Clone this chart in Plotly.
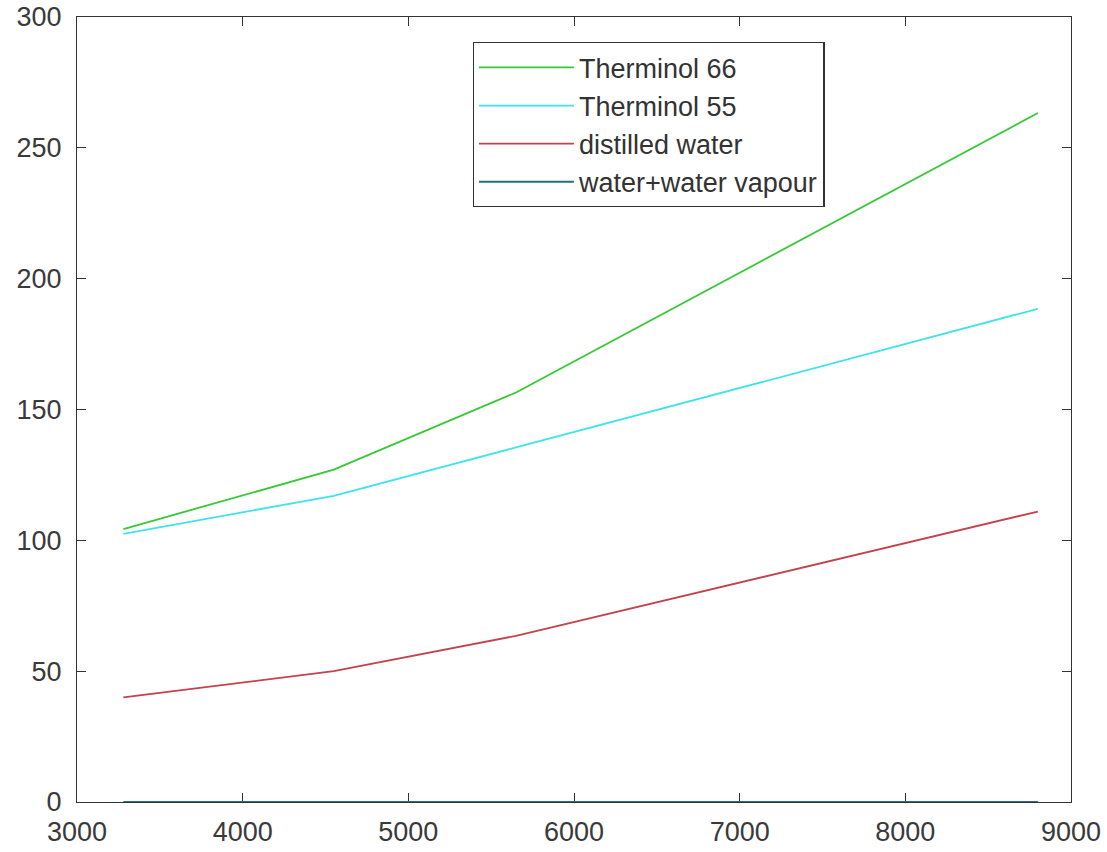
import plotly.graph_objects as go

# Data
speed = [3280, 4550, 5650, 8800]
therminol_66 = [104.3, 127.0, 156.5, 263.3]
therminol_55 = [102.5, 117.0, 135.5, 188.5]
distilled_water = [40.0, 50.0, 63.5, 111.0]
water_vapour = [0.0, 0.0, 0.0, 0.0]

series_names = ["Therminol 66", "Therminol 55", "distilled water", "water+water vapour"]
series_values = [therminol_66, therminol_55, distilled_water, water_vapour]
series_colors = ["#35c935", "#3fe3ea", "#c2434d", "#23707f"]

x_ticks = [3000, 4000, 5000, 6000, 7000, 8000, 9000]
y_ticks = [0, 50, 100, 150, 200, 250, 300]

fig = go.Figure()
for name, vals, col in zip(series_names, series_values, series_colors):
    fig.add_trace(go.Scatter(
        x=speed, y=vals, mode="lines", name=name, legendgroup=name,
        line=dict(color=col, width=1.8),
    ))

axis_common = dict(
    showline=True, linecolor="#333333", linewidth=1.3, mirror="ticks",
    ticks="inside", ticklen=9, tickwidth=1.3, tickcolor="#333333",
    showgrid=False, zeroline=False, automargin=False,
    tickfont=dict(family="Liberation Sans, Arial, sans-serif", size=27, color="#3a3a3a"),
)

fig.update_xaxes(range=[3000, 9000], tickvals=x_ticks, ticklabelstandoff=5,
                 layer="below traces", **axis_common)
fig.update_yaxes(range=[0, 300], tickvals=y_ticks, ticklabelstandoff=9,
                 layer="below traces", **axis_common)

fig.update_layout(
    width=1107, height=852,
    margin=dict(l=77, r=36, t=17, b=50),
    paper_bgcolor="white", plot_bgcolor="white",
    showlegend=True,
    legend=dict(
        x=0.398, y=0.968, xanchor="left", yanchor="top",
        bgcolor="white", bordercolor="#333333", borderwidth=1.3,
        font=dict(family="Liberation Sans, Arial, sans-serif", size=27, color="#333333"),
        itemwidth=95, tracegroupgap=0,
    ),
)

fig.write_html("out.html")
